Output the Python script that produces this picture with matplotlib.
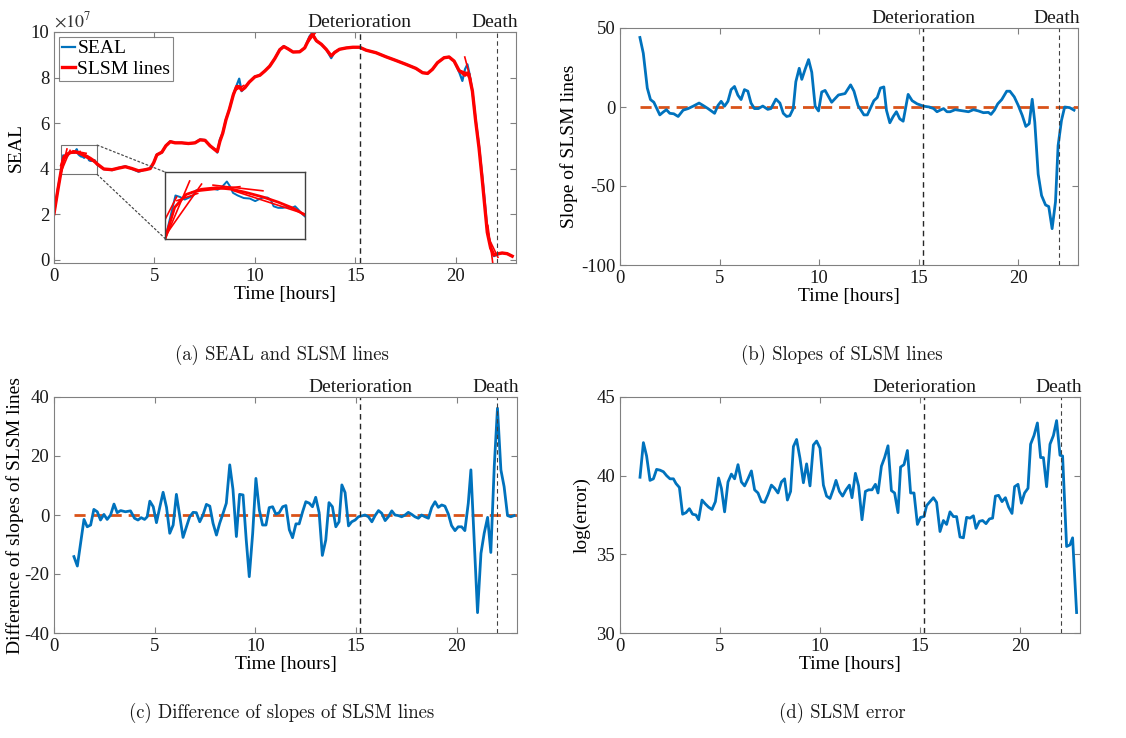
import matplotlib
matplotlib.use("Agg")
import matplotlib.pyplot as plt
from matplotlib.patches import Rectangle, ConnectionPatch

plt.rcParams['font.family'] = ['Liberation Serif', 'DejaVu Serif']
plt.rcParams['mathtext.fontset'] = 'stix'
plt.rcParams['axes.unicode_minus'] = False

# markers
t_deterioration = 15.22
t_death = 22.03

# (a) SEAL, in units of 1e7
seal_t = [0.0, 0.2, 0.33, 0.46, 0.52, 0.58, 0.64, 0.69, 0.73, 0.95, 1.01, 1.07, 1.13, 1.17, 1.21, 1.27,
          1.35, 1.43, 1.5, 1.54, 1.6, 1.66, 1.7, 1.74, 1.8, 1.86, 1.92, 1.98, 2.02, 2.06, 2.12, 2.15,
          2.48, 2.89, 3.22, 3.55, 3.88, 4.21, 4.55, 4.79, 4.96, 5.12, 5.37, 5.57, 5.79, 6.03, 6.36,
          6.69, 7.02, 7.27, 7.52, 7.77, 8.02, 8.13, 8.26, 8.4, 8.56, 8.73, 8.93, 9.09, 9.22, 9.34,
          9.5, 9.72, 10.0, 10.25, 10.5, 10.74, 10.99, 11.24, 11.44, 11.65, 11.9, 12.23, 12.48, 12.73,
          12.86, 13.06, 13.31, 13.55, 13.8, 13.97, 14.21, 14.55, 14.88, 15.21, 15.54, 16.03, 16.53,
          17.02, 17.52, 18.02, 18.35, 18.6, 18.84, 19.09, 19.42, 19.67, 19.92, 20.17, 20.33, 20.46,
          20.58, 20.69, 20.83, 20.99, 21.16, 21.32, 21.45, 21.57, 21.74, 21.9, 22.07, 22.31, 22.56, 22.81]
seal_v = [2.02, 3.15, 3.77, 4.58, 4.55, 4.5, 4.54, 4.58, 4.68, 4.71, 4.69, 4.75, 4.85, 4.76, 4.63, 4.58,
          4.53, 4.52, 4.47, 4.5, 4.54, 4.54, 4.5, 4.37, 4.34, 4.34, 4.36, 4.34, 4.37, 4.31, 4.21, 4.17,
          3.98, 3.93, 4.03, 4.1, 3.99, 3.86, 3.96, 4.0, 4.25, 4.62, 4.7, 5.01, 5.2, 5.13, 5.13,
          5.09, 5.13, 5.28, 5.25, 4.99, 4.84, 4.7, 5.28, 5.57, 6.16, 6.6, 7.26, 7.65, 7.95, 7.4,
          7.55, 7.8, 8.04, 8.1, 8.29, 8.5, 8.83, 9.24, 9.38, 9.26, 9.12, 9.13, 9.3, 9.82,
          9.97, 9.6, 9.46, 9.24, 8.85, 9.12, 9.24, 9.3, 9.33, 9.33, 9.2, 9.09, 8.91,
          8.75, 8.58, 8.4, 8.21, 8.18, 8.36, 8.65, 8.87, 8.91, 8.72, 8.24, 7.85, 8.36,
          8.58, 8.14, 7.4, 6.16, 4.99, 3.67, 2.49, 1.32, 0.59, 0.15, 0.22, 0.29, 0.26, 0.15]

# (a) SLSM lines (fitted curve), units of 1e7
slsm_t = [0.0, 0.2, 0.33, 0.45, 0.6, 0.8, 1.0, 1.2, 1.4, 1.6, 1.8, 2.0, 2.15, 2.48, 2.89, 3.22, 3.55,
          3.88, 4.21, 4.55, 4.79, 4.96, 5.12, 5.37, 5.57, 5.79, 6.03, 6.36, 6.69, 7.02, 7.27, 7.52,
          7.77, 8.02, 8.13, 8.26, 8.4, 8.56, 8.73, 8.93, 9.09, 9.22, 9.34, 9.5, 9.72, 10.0, 10.25,
          10.5, 10.74, 10.99, 11.24, 11.44, 11.65, 11.9, 12.23, 12.48, 12.73, 12.86, 13.06, 13.31,
          13.55, 13.8, 13.97, 14.21, 14.55, 14.88, 15.21, 15.54, 16.03, 16.53, 17.02, 17.52, 18.02,
          18.35, 18.6, 18.84, 19.09, 19.42, 19.67, 19.92, 20.17, 20.33, 20.46, 20.58, 20.69, 20.83,
          20.99, 21.16, 21.32, 21.45, 21.57, 21.74, 21.9, 22.07, 22.31, 22.56, 22.81]
slsm_v = [2.02, 3.1, 3.77, 4.35, 4.6, 4.7, 4.73, 4.7, 4.63, 4.55, 4.45, 4.33, 4.2, 3.98, 3.95, 4.02, 4.08,
          4.0, 3.9, 3.95, 4.0, 4.25, 4.6, 4.72, 5.0, 5.18, 5.13, 5.13, 5.1, 5.13, 5.26, 5.24,
          5.0, 4.82, 4.75, 5.2, 5.55, 6.14, 6.6, 7.25, 7.6, 7.6, 7.45, 7.55, 7.8, 8.03, 8.1,
          8.29, 8.5, 8.83, 9.22, 9.36, 9.26, 9.12, 9.13, 9.3, 9.75, 9.9, 9.62, 9.46,
          9.24, 8.95, 9.1, 9.24, 9.3, 9.33, 9.33, 9.2, 9.09, 8.91, 8.75, 8.58, 8.4,
          8.21, 8.18, 8.36, 8.65, 8.87, 8.9, 8.72, 8.3, 8.2, 8.1, 8.2, 8.0, 7.4,
          6.1, 4.9, 3.5, 2.3, 1.2, 0.5, 0.2, 0.25, 0.29, 0.26, 0.15]

# individual SLSM line segments that stick out
seg_t0 = [0.33, 0.33, 0.36, 0.48, 0.68, 0.95, 1.2, 9.05, 12.65, 20.25, 20.45, 21.6, 21.72]
seg_t1 = [0.645, 0.475, 0.80, 0.75, 1.3, 1.6, 2.15, 9.45, 13.0, 20.7, 20.75, 21.85, 22.1]
seg_v0 = [3.75, 4.13, 3.87, 4.48, 4.65, 4.78, 4.68, 7.45, 9.55, 8.3, 8.9, 1.5, 0.8]
seg_v1 = [4.86, 4.55, 4.80, 4.62, 4.75, 4.67, 4.22, 7.65, 9.95, 8.15, 7.9, -0.2, 0.1]

# (b) slopes of SLSM lines
b_t = [1.0, 1.17, 1.37, 1.53, 1.7, 1.83, 2.0, 2.17, 2.33, 2.5, 2.7, 2.92, 3.17, 3.42, 3.67, 3.97,
       4.17, 4.42, 4.75, 4.92, 5.08, 5.25, 5.42, 5.58, 5.75, 5.92, 6.08, 6.25, 6.42, 6.58, 6.75,
       6.95, 7.17, 7.42, 7.58, 7.83, 8.03, 8.2, 8.37, 8.53, 8.7, 8.83, 9.0, 9.13, 9.3, 9.47, 9.63,
       9.8, 9.97, 10.13, 10.3, 10.63, 10.97, 11.3, 11.58, 11.75, 11.95, 12.25, 12.42, 12.75, 12.92,
       13.08, 13.25, 13.38, 13.55, 13.72, 13.88, 14.05, 14.22, 14.47, 14.67, 14.92, 15.25, 15.53,
       15.75, 15.92, 16.08, 16.25, 16.42, 16.58, 16.83, 17.25, 17.5, 17.75, 18.0, 18.25, 18.5,
       18.63, 18.8, 18.97, 19.17, 19.42, 19.58, 19.8, 20.0, 20.2, 20.38, 20.55, 20.7, 20.83, 21.0,
       21.17, 21.37, 21.53, 21.7, 21.87, 22.0, 22.17, 22.33, 22.58, 22.8]
b_v = [44, 34, 12, 4.7, 3, -0.5, -5, -3.2, -1.7, -4, -4.3, -6, -2, -1, 0.5, 2.5,
       1, -1, -4, 1, 3.6, 0.5, 3.6, 11, 13, 7.5, 4.7, 11, 10, 2.5, -1,
       -1, 0.6, -1.5, -1, 5, 2.5, -4, -6, -5.5, -1, 16, 24.5, 17.5, 24, 30, 22,
       0.5, -2.5, 9.5, 10.5, 3, 7.6, 8.5, 14, 10, 1, -5, -5, 4, 6,
       12, 12.7, -2, -10, -6, -3, -7.5, -9, 8, 4, 2, 0.5, 0,
       -1, -3, -2, -1, -3, -3, -1.7, -2.5, -3, -1.7, -2.5, -3.6, -3.4,
       -4.7, -2, 2, 4.7, 10, 10, 6.4, 1, -5.3, -12.3, -10.6, 4.9, -9.6, -42.5,
       -56, -62, -63, -77, -60, -24.5, -8.5, 0, -0.4, -2]

# (c) difference of slopes
c_t = [0.99, 1.16, 1.32, 1.49, 1.65, 1.82, 1.98, 2.15, 2.31, 2.48, 2.64, 2.81, 2.98, 3.14, 3.31,
       3.55, 3.8, 4.0, 4.17, 4.33, 4.5, 4.63, 4.76, 4.93, 5.09, 5.26, 5.42, 5.59, 5.75, 5.92,
       6.08, 6.25, 6.41, 6.58, 6.74, 6.91, 7.07, 7.24, 7.4, 7.57, 7.74, 7.9, 8.07, 8.23, 8.4,
       8.56, 8.73, 8.89, 9.06, 9.22, 9.39, 9.55, 9.7, 9.87, 10.03, 10.2, 10.36, 10.53, 10.69,
       10.86, 11.02, 11.19, 11.36, 11.52, 11.69, 11.85, 12.02, 12.18, 12.35, 12.51, 12.68, 12.84,
       13.0, 13.17, 13.33, 13.5, 13.66, 13.83, 14.0, 14.16, 14.3, 14.46, 14.63, 14.79, 14.96,
       15.12, 15.29, 15.45, 15.62, 15.79, 15.95, 16.12, 16.28, 16.45, 16.61, 16.78, 16.94, 17.11,
       17.27, 17.44, 17.6, 17.77, 17.93, 18.1, 18.26, 18.43, 18.6, 18.76, 18.93, 19.09, 19.26,
       19.42, 19.59, 19.75, 19.92, 20.08, 20.25, 20.41, 20.58, 20.71, 21.04, 21.21, 21.37, 21.54,
       21.7, 21.87, 22.03, 22.2, 22.36, 22.53, 22.69, 22.86]
c_v = [-14.1, -17.3, -9.6, -1.5, -4, -3.4, 1.9, 1.1, -1.7, 0.2, -1.5, 0, 3.7, 0.8, 1.5,
       1.1, 1.4, -1.1, -1.7, -0.9, -1.5, -0.6, 4.7, 2.8, -2.6, 2.8, 7.7, 2.6, -6.2, -3.4,
       7, -0.6, -7.6, -4, -0.6, 0.9, 0.8, -2.3, 0, 3.6, 3, -2.8, -6.8, -2.8, 0.6,
       4, 17, 8.7, -7.3, 7, 6.8, -8.5, -20.9, -6.2, 12.4, 1.7, -3.4, -3.4, 2.5,
       2.8, 0.3, 0.8, 2.8, 3.2, -5, -7.7, -3, -3, 1.1, 4.5, 4, 2.8,
       6, 0.8, -13.7, -8.5, 4.2, 2.8, -4, -2.3, 10.2, 7.6, -3.7, -2.3, -1.7,
       -0.6, -0.3, 0, -0.6, -2.3, -0.2, 1.5, 0.6, -1.9, -0.6, 1.4, 0, -0.2,
       -0.6, 0, 0.9, 0.2, -0.6, -1.1, 0, -0.6, -1.1, 2.5, 4.5, 2.6, 3.4,
       3, 0.3, -3.6, -5.3, -4, -4, -5.3, 4, 15.3, -33.1, -13, -6.2, -0.8,
       -12.7, 16.4, 36.2, 15.3, 9.6, -0.2, -0.6, -0.2]

# (d) SLSM error
d_t = [1.0, 1.17, 1.33, 1.5, 1.67, 1.83, 2.0, 2.17, 2.33, 2.5, 2.67, 2.8, 2.97, 3.13, 3.3, 3.47,
       3.63, 3.8, 3.93, 4.1, 4.27, 4.43, 4.6, 4.77, 4.93, 5.07, 5.23, 5.4, 5.57, 5.73, 5.9, 6.07,
       6.23, 6.4, 6.57, 6.73, 6.9, 7.07, 7.23, 7.4, 7.57, 7.73, 7.9, 8.07, 8.23, 8.37, 8.53, 8.67,
       8.83, 9.0, 9.17, 9.33, 9.5, 9.67, 9.83, 10.0, 10.17, 10.33, 10.5, 10.67, 10.8, 10.97, 11.13,
       11.3, 11.47, 11.6, 11.77, 11.93, 12.1, 12.27, 12.43, 12.6, 12.77, 12.9, 13.07, 13.23, 13.4,
       13.57, 13.73, 13.9, 14.03, 14.2, 14.37, 14.53, 14.7, 14.87, 15.03, 15.2, 15.33, 15.5, 15.67,
       15.83, 16.0, 16.17, 16.33, 16.5, 16.67, 16.83, 17.0, 17.17, 17.33, 17.5, 17.67, 17.8, 17.97,
       18.13, 18.3, 18.47, 18.63, 18.77, 18.93, 19.1, 19.27, 19.43, 19.6, 19.73, 19.9, 20.07, 20.23,
       20.4, 20.53, 20.7, 20.87, 21.03, 21.17, 21.33, 21.5, 21.67, 21.83, 22.0, 22.13, 22.33, 22.5,
       22.63, 22.83]
d_v = [39.9, 42.1, 41.25, 39.7, 39.8, 40.4, 40.35, 40.25, 40.0, 39.8, 39.8, 39.5, 39.25, 37.55, 37.65, 37.9,
       37.55, 37.5, 37.2, 38.45, 38.2, 38.0, 37.85, 38.35, 39.85, 39.2, 37.7, 39.6, 40.1, 39.8, 40.7, 39.6,
       39.35, 39.8, 40.3, 39.1, 38.9, 38.35, 38.3, 38.8, 39.4, 39.2, 38.9, 39.6, 39.8, 38.45, 39.0, 41.85,
       42.3, 41.1, 39.55, 40.75, 39.35, 41.95, 42.2, 41.75, 39.4, 38.7, 38.55, 39.15, 39.7, 39.0, 38.7,
       39.1, 39.4, 38.6, 40.15, 39.35, 37.2, 39.0, 39.1, 39.1, 39.45, 38.9, 40.6, 41.15, 41.9,
       39.05, 38.9, 37.65, 40.55, 40.7, 41.6, 38.9, 38.9, 36.9, 37.35, 37.4, 38.1, 38.35, 38.6,
       38.3, 36.45, 37.15, 36.9, 37.7, 37.4, 37.4, 36.1, 36.05, 37.35, 37.3, 37.45, 36.65, 37.1,
       37.15, 36.95, 37.25, 37.3, 38.7, 38.75, 38.35, 38.6, 38.0, 37.6, 39.3, 39.45, 38.25, 38.9,
       39.2, 42.0, 42.55, 43.35, 41.15, 41.15, 39.3, 42.0, 42.55, 43.5, 41.3, 41.25, 35.5, 35.6,
       36.05, 31.3]

blue = '#0072BD'
orange = '#D95319'
W, H = 1126, 738


def make_ax(fig, left, right, top, bottom):
    ax = fig.add_axes([left / W, 1 - bottom / H, (right - left) / W, (bottom - top) / H])
    for s in ax.spines.values():
        s.set_color('0.5')
        s.set_linewidth(0.8)
    ax.tick_params(direction='in', top=True, right=True, labelsize=13.5,
                   color='0.5', length=4, width=0.8, labelcolor='0.1')
    ax.set_xlim(0, 23)
    ax.set_xticks([0, 5, 10, 15, 20])
    ax.set_xlabel('Time [hours]', fontsize=14, labelpad=1)
    return ax


def add_events(ax, death_shift=-0.1):
    ax.axvline(t_deterioration, color='0.15', linestyle=(0, (4, 3)), linewidth=1.0)
    ax.axvline(t_death, color='0.25', linestyle=(0, (4, 3)), linewidth=0.8)
    ax.text(t_deterioration, 1.005, 'Deterioration', transform=ax.get_xaxis_transform(),
            ha='center', va='bottom', fontsize=14, color='0.1')
    ax.text(t_death + death_shift, 1.005, 'Death', transform=ax.get_xaxis_transform(),
            ha='center', va='bottom', fontsize=14, color='0.1')


fig = plt.figure(figsize=(11.26, 7.38), dpi=100)

# (a)
ax1 = make_ax(fig, 54, 516, 32, 263)
ax1.plot(seal_t, seal_v, color=blue, linewidth=1.6, label='SEAL')
ax1.plot(slsm_t, slsm_v, color='red', linewidth=2.4, label='SLSM lines')
for i in range(len(seg_t0)):
    ax1.plot([seg_t0[i], seg_t1[i]], [seg_v0[i], seg_v1[i]], color='red', linewidth=1.2)
ax1.set_ylim(-0.15, 10)
ax1.set_yticks([0, 2, 4, 6, 8, 10])
ax1.set_ylabel('SEAL', fontsize=14, labelpad=4)
ax1.text(0.0, 1.005, r'$\times10^{7}$', transform=ax1.transAxes, ha='left', va='bottom',
         fontsize=13, color='0.2')
add_events(ax1)
leg = ax1.legend(loc='upper left', fontsize=14, handlelength=0.7, handletextpad=0.1,
                 borderpad=0.15, labelspacing=0.15, borderaxespad=0.25, fancybox=False)
leg.get_frame().set_edgecolor('0.4')
leg.get_frame().set_linewidth(0.8)

# zoom box and inset
x0, x1, y0, y1 = 0.33, 2.15, 3.74, 5.03
ax1.add_patch(Rectangle((x0, y0), x1 - x0, y1 - y0, fill=False, edgecolor='0.45', linewidth=0.8))
axins = ax1.inset_axes([5.55, 0.91, 6.95, 2.93], transform=ax1.transData)
axins.plot(seal_t, seal_v, color=blue, linewidth=1.4)
axins.plot(slsm_t, slsm_v, color='red', linewidth=2.0)
for i in range(len(seg_t0)):
    axins.plot([seg_t0[i], seg_t1[i]], [seg_v0[i], seg_v1[i]], color='red', linewidth=1.2)
axins.set_xlim(x0, x1)
axins.set_ylim(y0, y1)
axins.set_xticks([])
axins.set_yticks([])
for s in axins.spines.values():
    s.set_color('0.25')
    s.set_linewidth(1.0)
for (xa, ya, xb, yb) in [(x1, y1, 0, 1), (x1, y0, 0, 0)]:
    con = ConnectionPatch(xyA=(xa, ya), coordsA=ax1.transData, xyB=(xb, yb), coordsB=axins.transAxes,
                          linestyle=(0, (1.5, 2)), color='0.3', linewidth=0.9)
    fig.add_artist(con)

# (b)
ax2 = make_ax(fig, 620, 1078, 28, 265)
ax2.plot([1.0, 23], [0, 0], color=orange, linestyle=(0, (4, 2.5)), linewidth=2)
ax2.plot(b_t, b_v, color=blue, linewidth=2)
ax2.set_ylim(-100, 50)
ax2.set_yticks([-100, -50, 0, 50])
ax2.set_ylabel('Slope of SLSM lines', fontsize=14, labelpad=2)
add_events(ax2)

# (c)
ax3 = make_ax(fig, 54, 517, 397, 633)
ax3.plot([1.0, 23], [0, 0], color=orange, linestyle=(0, (4, 2.5)), linewidth=2)
ax3.plot(c_t, c_v, color=blue, linewidth=2)
ax3.set_ylim(-40, 40)
ax3.set_yticks([-40, -20, 0, 20, 40])
ax3.set_ylabel('Difference of slopes of SLSM lines', fontsize=14, labelpad=0)
add_events(ax3)

# (d)
ax4 = make_ax(fig, 620, 1080, 397, 633)
ax4.plot(d_t, d_v, color=blue, linewidth=2)
ax4.set_ylim(30, 45)
ax4.set_yticks([30, 35, 40, 45])
ax4.set_ylabel('log(error)', fontsize=14, labelpad=4)
add_events(ax4)

# captions
cap = dict(ha='center', va='center', fontsize=13.5, family='cmr10', color='0.1')
fig.text(282 / W, 1 - 355 / H, '(a) SEAL and SLSM lines', **cap)
fig.text(842 / W, 1 - 355 / H, '(b) Slopes of SLSM lines', **cap)
fig.text(282 / W, 1 - 713 / H, '(c) Difference of slopes of SLSM lines', **cap)
fig.text(842 / W, 1 - 713 / H, '(d) SLSM error', **cap)

fig.savefig('out.png', dpi=100)
